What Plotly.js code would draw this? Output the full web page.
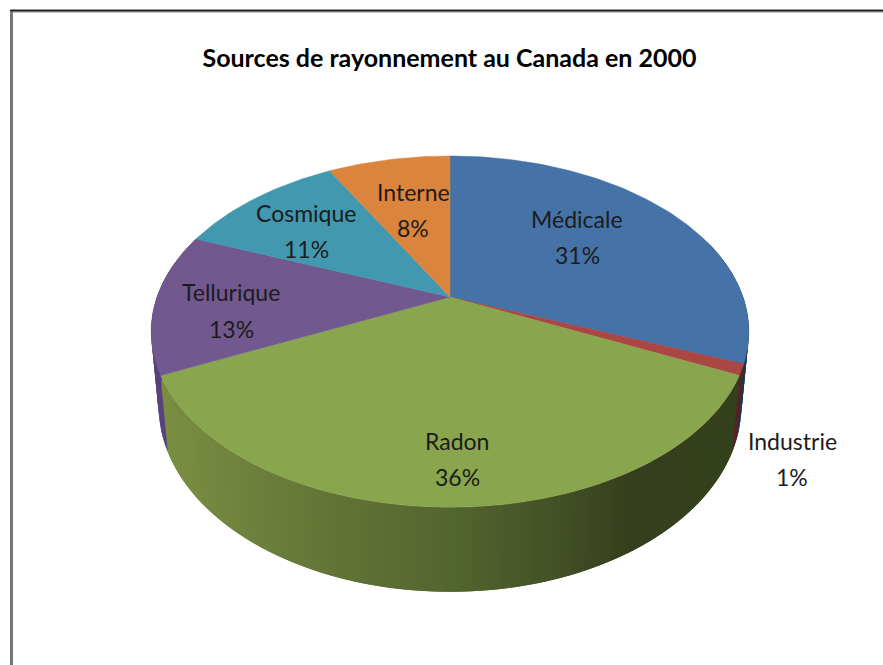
<!DOCTYPE html>
<html lang="fr">
<head>
<meta charset="utf-8">
<title>Sources de rayonnement au Canada en 2000</title>
<script src="https://cdn.plot.ly/plotly-3.0.1.min.js"></script>
<style>html,body{margin:0;padding:0;background:#fff}#chart{width:883px;height:665px}</style>
</head>
<body>
<div id="chart"></div>
<script>
// Parts of total radiation exposure, in percent, clockwise from twelve o'clock
const categories = ['Médicale', 'Industrie', 'Radon', 'Tellurique', 'Cosmique', 'Interne'];
const shares = [31, 1, 36, 13, 11, 8];

const topColors = ['#4572A7', '#AA4643', '#89A54E', '#71588F', '#4198AF', '#DB843D'];

// Wall shading per slice: [horizontal position, rgb] stops
const wallShades = [
  [[0, [30, 52, 82]], [883, [30, 52, 82]]],
  [[0, [90, 34, 32]], [883, [90, 34, 32]]],
  [[165, [122, 142, 66]], [330, [99, 116, 54]], [450, [84, 102, 46]], [560, [67, 79, 38]], [630, [53, 63, 29]], [740, [53, 64, 29]]],
  [[150, [88, 66, 122]], [180, [92, 70, 126]]],
  [[0, [45, 105, 122]], [883, [45, 105, 122]]],
  [[0, [150, 90, 40]], [883, [150, 90, 40]]]
];

// Label anchors on the chart's 883x665 plane: [x, name line y, share line y]
const labelAnchors = [
  [577, 219, 255], [792, 441, 477], [457, 441, 477],
  [231, 292, 329], [306, 213, 249], [413, 192, 228]
];

// Perspective view of the cylinder: top rim and bottom rim
const view = {cx: 450, a: 293, b: 168.8, p: 0.197};
const topRim = {y0: 297, sx: 1, sy: 1};
const bottomRim = {y0: 369, sx: 0.975, sy: 1.06};

function project(theta, rim) {
  const X = Math.sin(theta), Y = Math.cos(theta);
  const w = 1 + view.p * Y;
  return [view.cx + rim.sx * view.a * X / w, rim.y0 - rim.sy * view.b * Y / w];
}

function shadeAt(stops, x) {
  let rgb = stops[stops.length - 1][1];
  if (x <= stops[0][0]) rgb = stops[0][1];
  else for (let i = 1; i < stops.length; i++) {
    if (x <= stops[i][0]) {
      const t = (x - stops[i - 1][0]) / (stops[i][0] - stops[i - 1][0]);
      rgb = stops[i][1].map((c, k) => Math.round(stops[i - 1][1][k] + t * (c - stops[i - 1][1][k])));
      break;
    }
  }
  return `rgb(${rgb.join(',')})`;
}

const total = shares.reduce((s, v) => s + v, 0);
const edges = [0];
shares.forEach(v => edges.push(edges[edges.length - 1] + v / total * 2 * Math.PI));

// Wall strips in clockwise order; each reaches a step past its end, so the
// next one paints over the join and no seam shows between them
const STEP = Math.PI / 150;
const wallTraces = [];
shares.forEach((_, i) => {
  for (let t = edges[i]; t < edges[i + 1] - 1e-9; t += STEP) {
    if (Math.cos(t) > 0.35) continue;
    const t2 = Math.min(t + STEP, edges[i + 1]);
    const t3 = t2 + STEP;
    const q = [project(t, topRim), project(t3, topRim), project(t3, bottomRim), project(t, bottomRim)];
    const mx = (project(t, topRim)[0] + project(t2, topRim)[0] + project(t, bottomRim)[0] + project(t2, bottomRim)[0]) / 4;
    const color = shadeAt(wallShades[i], mx);
    wallTraces.push({
      type: 'scatter', mode: 'none', hoverinfo: 'skip', showlegend: false,
      x: q.map(p => p[0]).concat(q[0][0]),
      y: q.map(p => p[1]).concat(q[0][1]),
      fill: 'toself', fillcolor: color
    });
  }
});

// Top faces
const topTraces = shares.map((v, i) => {
  const xs = [], ys = [];
  const apex = project(0, {y0: topRim.y0, sx: 0, sy: 0});
  xs.push(apex[0]); ys.push(apex[1]);
  const n = Math.max(4, Math.ceil((edges[i + 1] - edges[i]) / (Math.PI / 180)));
  for (let k = 0; k <= n; k++) {
    const p = project(edges[i] + (edges[i + 1] - edges[i]) * k / n, topRim);
    xs.push(p[0]); ys.push(p[1]);
  }
  xs.push(apex[0]); ys.push(apex[1]);
  return {
    type: 'scatter', mode: 'lines', name: categories[i], showlegend: false,
    x: xs, y: ys, fill: 'toself', fillcolor: topColors[i],
    line: {color: topColors[i], width: 0.5},
    text: `${categories[i]} ${v}%`, hoverinfo: 'text'
  };
});

const labelFont = {family: 'Lato, Carlito, sans-serif', size: 23, color: '#1c1c1c'};
const annotations = [];
categories.forEach((name, i) => {
  const [x, y1, y2] = labelAnchors[i];
  annotations.push({x, y: y1, xref: 'x', yref: 'y', text: name, showarrow: false, font: labelFont, xanchor: 'center', yanchor: 'middle'});
  annotations.push({x, y: y2, xref: 'x', yref: 'y', text: shares[i] + '%', showarrow: false, font: labelFont, xanchor: 'center', yanchor: 'middle'});
});

const hiddenAxis = {visible: false, fixedrange: true, showgrid: false, zeroline: false};

const layout = {
  width: 883, height: 665,
  margin: {l: 0, r: 0, t: 0, b: 0},
  paper_bgcolor: '#fff', plot_bgcolor: '#fff',
  showlegend: false,
  title: {
    text: 'Sources de rayonnement au Canada en 2000',
    font: {family: 'Lato, Carlito, sans-serif', size: 25, color: '#000', weight: 700},
    x: 449.5 / 883, xanchor: 'center', y: 1 - 58 / 665, yanchor: 'middle'
  },
  xaxis: Object.assign({range: [0, 883]}, hiddenAxis),
  yaxis: Object.assign({range: [665, 0]}, hiddenAxis),
  annotations,
  // Window frame along the top and left edges: soft grey band with a dark core
  shapes: [
    {type: 'line', xref: 'x', yref: 'y', x0: 10, y0: 11, x1: 883, y1: 11, line: {color: '#8a8a8a', width: 3}},
    {type: 'line', xref: 'x', yref: 'y', x0: 11.5, y0: 10, x1: 11.5, y1: 665, line: {color: '#777777', width: 3}},
    {type: 'line', xref: 'x', yref: 'y', x0: 10, y0: 10.5, x1: 883, y1: 10.5, line: {color: '#1e1e1e', width: 1.5}}
  ]
};

Plotly.newPlot('chart', wallTraces.concat(topTraces), layout, {displayModeBar: false});
</script>
</body>
</html>
